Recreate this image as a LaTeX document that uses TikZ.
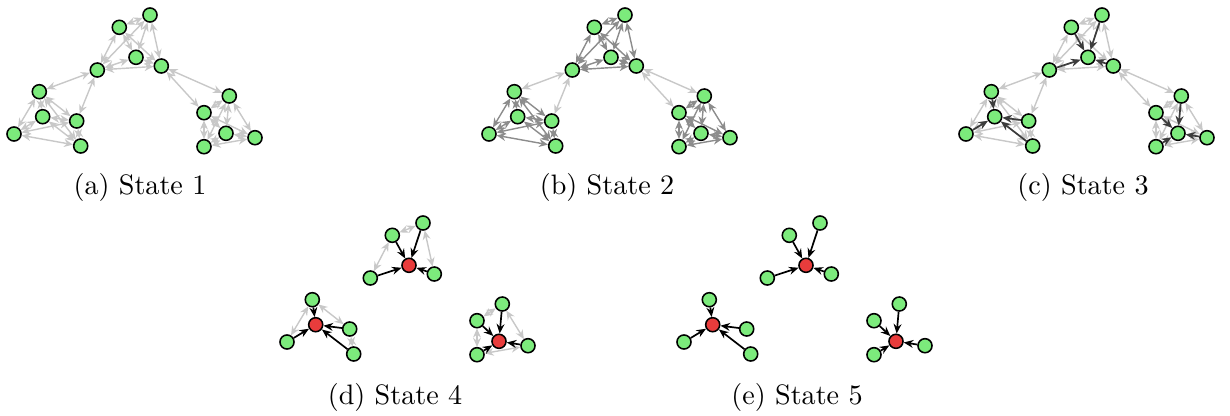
\documentclass[tikz,border=0pt]{standalone}
\usetikzlibrary{arrows.meta,backgrounds}

\definecolor{verde}{RGB}{124,235,124}
\definecolor{rojo}{RGB}{232,60,60}
\definecolor{grisclaro}{RGB}{200,200,200}
\definecolor{grismedio}{RGB}{140,140,140}
\definecolor{grisoscuro}{RGB}{60,60,60}

\tikzset{
    nodo/.style={circle, draw=black, line width=0.55pt, fill=verde,
        minimum size=5pt, inner sep=0pt},
    nodorojo/.style={nodo, fill=rojo},
    arista/.style={grisclaro, line width=0.5pt,
        {Stealth[length=3.2pt,width=2.8pt]}-{Stealth[length=3.2pt,width=2.8pt]}},
    oscura/.style={grisoscuro, line width=0.6pt,
        -{Stealth[length=3.4pt,width=2.8pt]}},
    flecha/.style={black, line width=0.6pt,
        -{Stealth[length=3.4pt,width=2.8pt]}},
    titulo/.style={font=\normalsize}
}

\begin{document}
\begin{tikzpicture}[x=0.0125cm,y=-0.0125cm]

    \useasboundingbox (0,0) rectangle (1230,415);

    %---------------- NODOS ----------------
    % mismo esquema en las cinco figuras, solo desplazado
    \foreach \p/\dx/\dy/\estilo in {a/0/0/nodo, b/475/0/nodo, c/952/0/nodo,
                                    d/273/208/nodorojo, e/670/208/nodorojo}{
        \foreach \k/\x/\y in {t/136/57.3, l/42.7/116.7, r/226/133.3}
            \node[\estilo] (\p\k c) at (\x+\dx,\y+\dy) {};
        \foreach \k/\i/\x/\y in {t/1/97.3/70, t/2/119.3/27.3, t/3/150/15, t/4/161.3/66,
                                 l/1/14/134, l/2/39.3/91.7, l/3/76.7/121, l/4/80.7/146,
                                 r/1/204/146.7, r/2/204/112.7, r/3/229.3/96, r/4/255/137.7}
            \node[nodo] (\p\k\i) at (\x+\dx,\y+\dy) {};
    }

    \begin{scope}[on background layer]

        %---------------- ESTADOS 1, 2 Y 3 ----------------
        \foreach \p/\col in {a/grisclaro, b/grismedio, c/grisclaro}{
            \foreach \k in {t,l,r}{
                \foreach \i in {1,...,4}{
                    \draw[arista, \col] (\p\k\i) -- (\p\k c);
                    \foreach \j in {1,...,4}{
                        \ifnum\j>\i \draw[arista, \col] (\p\k\i) -- (\p\k\j); \fi
                    }
                }
            }
            % enlaces entre grupos
            \draw[arista] (\p t1) -- (\p l2);
            \draw[arista] (\p t1) -- (\p l3);
            \draw[arista] (\p t4) -- (\p r3);
            \draw[arista] (\p t4) -- (\p r2);
        }

        % estado 3: flechas hacia el centro
        \foreach \k in {t,l,r}
            \foreach \i in {1,...,4}
                \draw[oscura] (c\k\i) -- (c\k c);

        %---------------- ESTADO 4 ----------------
        \foreach \k/\i/\j in {t/1/2, t/2/3, t/3/4, l/1/2, l/2/3, l/3/4,
                              r/1/2, r/2/3, r/3/4, r/4/1}
            \draw[arista] (d\k\i) -- (d\k\j);

        %---------------- ESTADOS 4 Y 5 ----------------
        \foreach \p in {d,e}
            \foreach \k in {t,l,r}
                \foreach \i in {1,...,4}
                    \draw[flecha] (\p\k\i) -- (\p\k c);

    \end{scope}

    %---------------- TITULOS ----------------
    \node[titulo] (tita) at (140,187.5) {(a) State 1};
    \node[titulo] (titb) at (607,187.5) {(b) State 2};
    \node[titulo] (titc) at (1083,187.5) {(c) State 3};
    \node[titulo] (titd) at (395,397.5) {(d) State 4};
    \node[titulo] (tite) at (797,397.5) {(e) State 5};

\end{tikzpicture}
\end{document}
